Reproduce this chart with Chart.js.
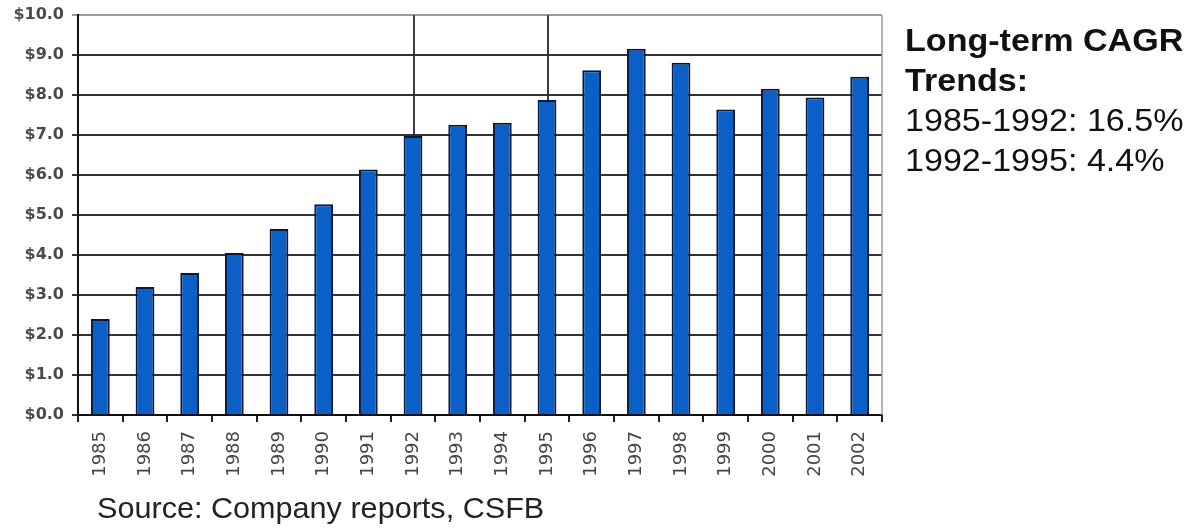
<!DOCTYPE html>
<html>
<head>
<meta charset="utf-8">
<script src="https://cdn.jsdelivr.net/npm/chart.js@4.4.1/dist/chart.umd.min.js"></script>
<style>
    html, body { margin: 0; padding: 0; background: #fff; }
    #wrap { position: relative; width: 1195px; height: 529px; }
    #salesChart { position: absolute; left: 0; top: 0; }
    .note { position: absolute; font-family: "Liberation Sans", Arial, sans-serif; color: #111; transform-origin: left top; }
    #cagr { left: 905px; top: 20px; font-size: 32px; line-height: 40px; transform: scaleX(1.065); }
    #cagr b { font-weight: bold; }
    #source { left: 97px; top: 491px; font-size: 30px; color: #222; transform: scaleX(1.02); }
</style>
</head>
<body>
<div id="wrap">
    <canvas id="salesChart" width="1195" height="529"></canvas>
    <div id="cagr" class="note"><b>Long-term CAGR<br>Trends:</b><br>1985-1992: 16.5%<br>1992-1995: 4.4%</div>
    <div id="source" class="note">Source: Company reports, CSFB</div>
</div>
<script>
document.addEventListener('DOMContentLoaded', () => {
    const years = ['1985', '1986', '1987', '1988', '1989', '1990', '1991', '1992', '1993',
                   '1994', '1995', '1996', '1997', '1998', '1999', '2000', '2001', '2002'];
    const values = [2.4, 3.2, 3.55, 4.05, 4.65, 5.27, 6.14, 6.98, 7.26,
                    7.31, 7.88, 8.62, 9.16, 8.81, 7.64, 8.16, 7.94, 8.46];
    // years where a CAGR period starts/ends
    const markerYears = ['1992', '1995'];

    const ctx = document.getElementById('salesChart').getContext('2d');

    // marker lines from the top of the plot down to the bar, plus the right frame line
    const framePlugin = {
        id: 'frame',
        afterDatasetsDraw(chart) {
            const { ctx, chartArea, scales } = chart;
            ctx.save();
            ctx.strokeStyle = '#9a9a9a';
            ctx.lineWidth = 1.5;
            ctx.beginPath();
            ctx.moveTo(chartArea.right, chartArea.top);
            ctx.lineTo(chartArea.right, chartArea.bottom);
            ctx.stroke();

            ctx.strokeStyle = '#2a2a2a';
            ctx.lineWidth = 1.8;
            markerYears.forEach(yr => {
                const i = years.indexOf(yr);
                const x = scales.x.getPixelForValue(i) + 1;
                ctx.beginPath();
                ctx.moveTo(x, chartArea.top);
                ctx.lineTo(x, scales.y.getPixelForValue(values[i]));
                ctx.stroke();
            });
            ctx.restore();
        }
    };

    new Chart(ctx, {
        type: 'bar',
        data: {
            labels: years,
            datasets: [{
                data: values,
                backgroundColor: '#0b60c8',
                borderColor: '#0a1838',
                borderWidth: 2,
                borderSkipped: 'bottom',
                barPercentage: 0.42,
                categoryPercentage: 1
            }]
        },
        options: {
            responsive: false,
            animation: false,
            layout: { padding: { left: 0, top: 12, right: 313, bottom: 44 } },
            plugins: {
                legend: { display: false },
                tooltip: { enabled: false }
            },
            scales: {
                x: {
                    afterFit: scale => { scale.height = 70; },
                    grid: { drawOnChartArea: false, drawTicks: true, tickLength: 7, color: '#222', lineWidth: 2 },
                    border: { color: '#111', width: 2 },
                    ticks: {
                        autoSkip: false,
                        maxRotation: 90,
                        minRotation: 90,
                        padding: 9,
                        color: '#444',
                        font: { family: 'DejaVu Sans', size: 18 }
                    }
                },
                y: {
                    min: 0,
                    max: 10,
                    afterFit: scale => { scale.width = 78; },
                    grid: {
                        color: c => (c.tick && c.tick.value === 10 ? '#9a9a9a' : '#333'),
                        lineWidth: 2,
                        tickLength: 6,
                        drawTicks: true
                    },
                    border: { color: '#111', width: 2 },
                    ticks: {
                        stepSize: 1,
                        padding: 8,
                        color: '#4a4a4a',
                        font: { family: 'DejaVu Sans', size: 16, weight: 'bold', lineHeight: 0.9 },
                        callback: v => '$' + v.toFixed(1)
                    }
                }
            }
        },
        plugins: [framePlugin]
    });
});
</script>
</body>
</html>
